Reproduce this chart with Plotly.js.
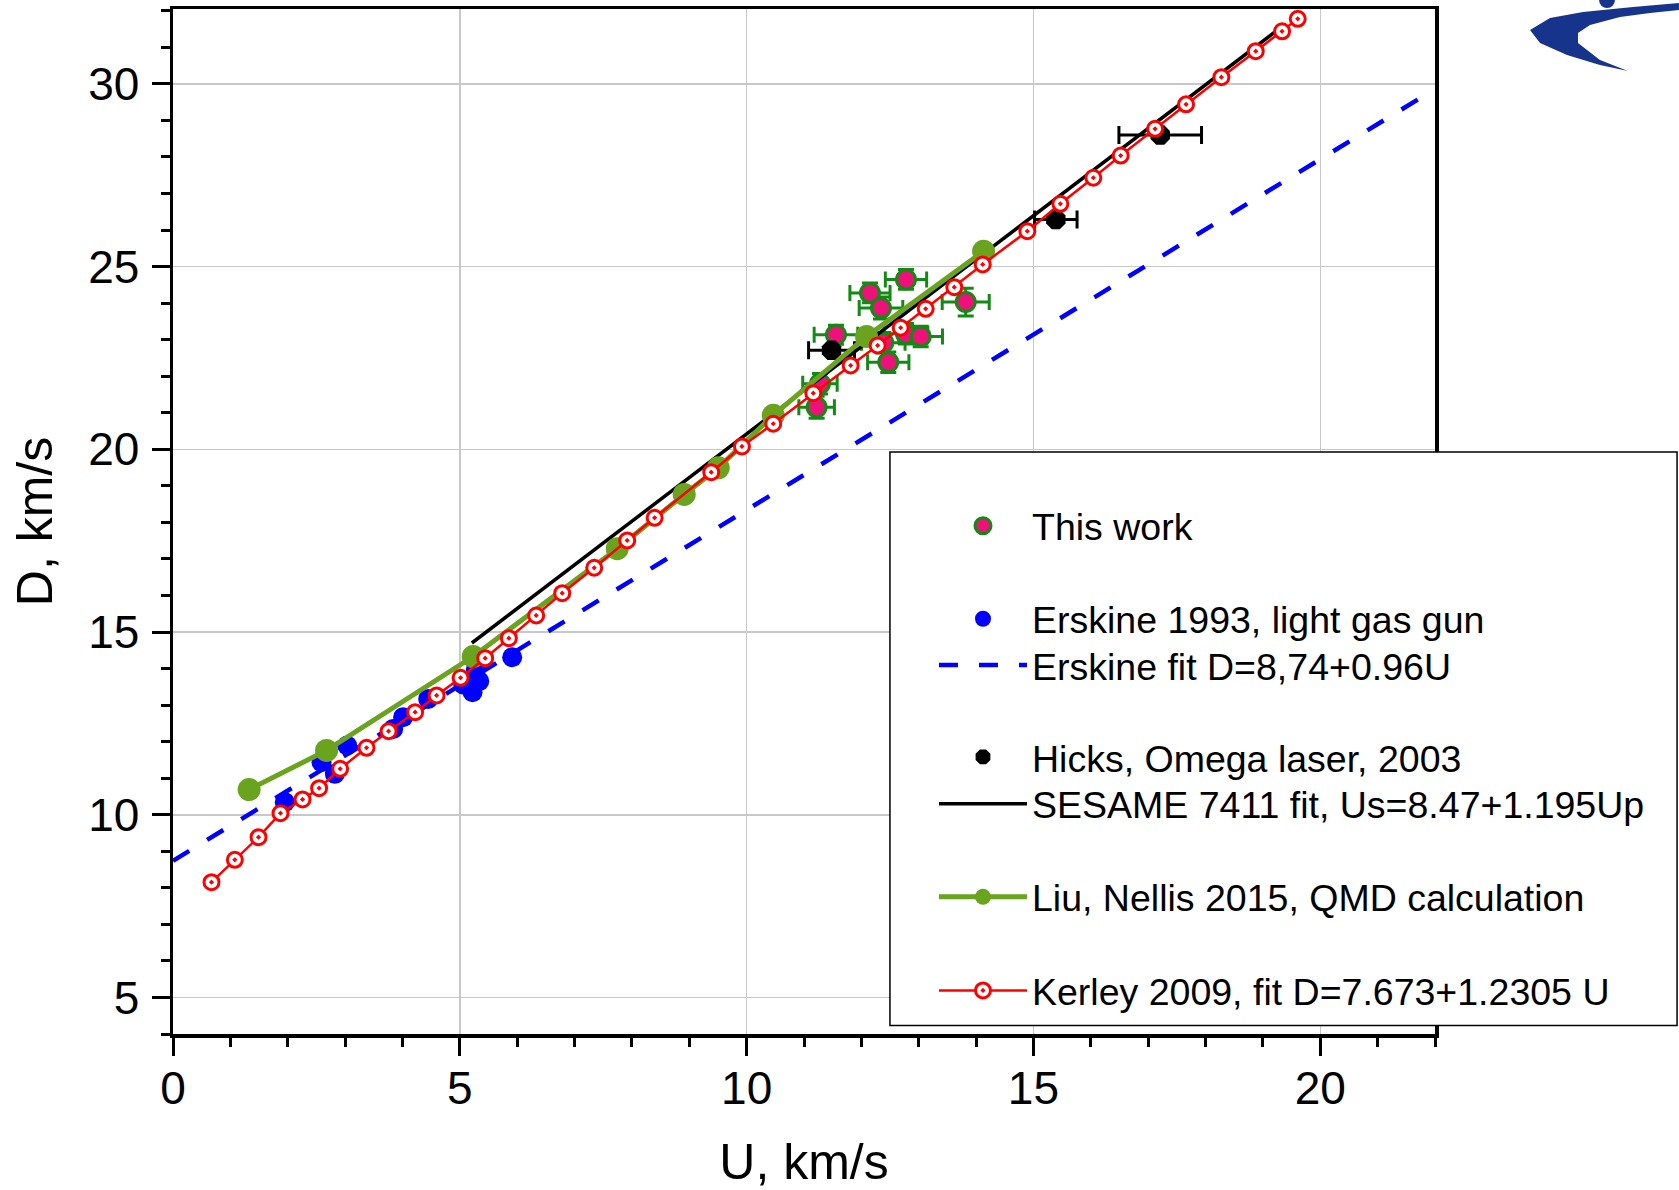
<!DOCTYPE html>
<html>
<head>
<meta charset="utf-8">
<script src="https://cdn.plot.ly/plotly-3.0.1.min.js"></script>
<style>html,body{margin:0;padding:0;background:#fff;}#chart{width:1679px;height:1190px;}</style>
</head>
<body>
<div id="chart"></div>
<script>
// ---- This work ----
const workU  = [12.778, 12.15, 12.342, 13.819, 11.557, 12.778, 13.034, 12.382, 12.469, 11.278, 11.22];
const workD  = [24.648, 24.28, 23.87, 24.03, 23.135, 23.163, 23.09, 22.915, 22.385, 21.795, 21.15];
const workEU = [0.36, 0.35, 0.38, 0.41, 0.38, 0.38, 0.38, 0.38, 0.36, 0.30, 0.31];
const workED = [0.27, 0.27, 0.30, 0.38, 0.26, 0.28, 0.28, 0.28, 0.28, 0.28, 0.30];

// ---- Erskine 1993 ----
const erskU = [1.949, 2.589, 2.821, 3.036, 3.838, 4.012, 4.449, 5.059, 5.222, 5.338, 5.28, 5.913];
const erskD = [10.344, 11.438, 11.12, 11.895, 12.35, 12.67, 13.17, 13.565, 13.355, 13.655, 13.967, 14.31];
const erskFitU = [0, 22];
const erskFitD = [8.74, 29.86];

// ---- Hicks 2003 ----
const hicksU  = [11.48, 15.39, 17.21];
const hicksD  = [22.71, 26.29, 28.6];
const hicksEU = [0.40, 0.37, 0.72];

// ---- SESAME 7411 fit ----
const sesameU = [5.21, 19.3];
const sesameD = [14.70, 31.53];

// ---- Liu, Nellis 2015 QMD ----
const liuU = [1.327, 2.677, 5.233, 7.744, 8.912, 9.505, 10.464, 12.09, 14.13];
const liuD = [10.69, 11.76, 14.33, 17.28, 18.765, 19.495, 20.93, 23.09, 25.42];

// ---- Kerley 2009 ----
const kerU = [0.671, 1.078, 1.491, 1.874, 2.258, 2.547, 2.914, 3.374, 3.758, 4.221, 4.595, 5.013, 5.442, 5.855,
  6.331, 6.785, 7.343, 7.918, 8.396, 9.383, 9.918, 10.464, 11.162, 11.813, 12.284, 12.685, 13.121, 13.62,
  14.115, 14.893, 15.469, 16.044, 16.521, 17.12, 17.66, 18.276, 18.875, 19.334, 19.607];
const kerD = [8.154, 8.767, 9.386, 10.043, 10.418, 10.727, 11.258, 11.832, 12.287, 12.807, 13.264, 13.748, 14.285, 14.832,
  15.453, 16.064, 16.759, 17.506, 18.127, 19.375, 20.078, 20.70, 21.537, 22.295, 22.842, 23.327, 23.846, 24.438,
  25.059, 25.97, 26.72, 27.432, 28.04, 28.77, 29.44, 30.185, 30.896, 31.44, 31.78];

const xTickVals = [0, 5, 10, 15, 20];
const yTickVals = [5, 10, 15, 20, 25, 30];

const FONT = 'Liberation Sans, Arial, Helvetica, sans-serif';

const traces = [
  {
    x: workU, y: workD, mode: 'markers', type: 'scatter', name: 'This work', legend: 'legend',
    marker: {size: 19, color: '#EC1279', line: {color: '#138A13', width: 3}},
    error_x: {type: 'data', array: workEU, visible: true, color: '#138A13', thickness: 3, width: 8},
    error_y: {type: 'data', array: workED, visible: true, color: '#138A13', thickness: 3, width: 8}
  },
  {
    x: erskU, y: erskD, mode: 'markers', type: 'scatter', name: 'Erskine 1993, light gas gun', legend: 'legend2',
    marker: {size: 20, color: '#0000FF'}
  },
  {
    x: erskFitU, y: erskFitD, mode: 'lines', type: 'scatter', name: 'Erskine fit D=8,74+0.96U', legend: 'legend3',
    line: {color: '#0000FF', width: 4.5, dash: '19px,21px'}
  },
  {
    x: hicksU, y: hicksD, mode: 'markers', type: 'scatter', name: 'Hicks, Omega laser, 2003', legend: 'legend4',
    marker: {size: 21, color: '#000000', symbol: 'octagon'},
    error_x: {type: 'data', array: hicksEU, visible: true, color: '#000000', thickness: 3, width: 9}
  },
  {
    x: sesameU, y: sesameD, mode: 'lines', type: 'scatter', name: 'SESAME 7411 fit, Us=8.47+1.195Up', legend: 'legend5',
    line: {color: '#000000', width: 3.5}
  },
  {
    x: liuU, y: liuD, mode: 'lines+markers', type: 'scatter', name: 'Liu, Nellis 2015, QMD calculation', legend: 'legend6',
    line: {color: '#6AA31E', width: 5},
    marker: {size: 23, color: '#6AA31E'}
  },
  {
    x: kerU, y: kerD, mode: 'lines+markers', type: 'scatter', name: 'Kerley 2009, fit D=7.673+1.2305 U', legend: 'legend7',
    line: {color: '#FF0000', width: 2.5},
    marker: {size: 15, color: '#FFFFFF', symbol: 'circle-dot', line: {color: '#FF0000', width: 3}}
  }
];

const axisCommon = {
  showline: true, linecolor: '#000', linewidth: 3.5, mirror: true,
  ticks: 'outside', ticklen: 18, tickwidth: 3, tickcolor: '#000',
  showgrid: true, gridcolor: '#C8C8C8', gridwidth: 1.5, zeroline: false,
  tickfont: {family: FONT, size: 46, color: '#000'},
  minor: {ticks: 'outside', ticklen: 9, tickwidth: 3, tickcolor: '#000', dtick: 1, showgrid: false},
  automargin: false
};

// legend rows: vertical centres of the legend entries in paper units
const legendRowsY = [0.4958, 0.4050, 0.3600, 0.2702, 0.2244, 0.1337, 0.0424];
function legendAt(yc) {
  return {
    x: 0.603, y: yc, xanchor: 'left', yanchor: 'middle',
    bgcolor: 'rgba(0,0,0,0)', borderwidth: 0,
    font: {family: FONT, size: 37.5, color: '#000'},
    itemwidth: 88
  };
}

const layout = {
  width: 1679, height: 1190,
  margin: {l: 173, r: 244, t: 9, b: 156},
  paper_bgcolor: '#fff', plot_bgcolor: '#fff',
  font: {family: FONT, color: '#000'},
  showlegend: true,
  xaxis: Object.assign({}, axisCommon, {
    range: [0, 22], tickmode: 'array', tickvals: xTickVals,
    ticklabelstandoff: -7,
    title: {text: 'U, km/s', font: {family: FONT, size: 50}, standoff: 57}
  }),
  yaxis: Object.assign({}, axisCommon, {
    range: [4, 32.05], tickmode: 'array', tickvals: yTickVals,
    ticklabelstandoff: 3,
    title: {text: 'D, km/s', font: {family: FONT, size: 50}, standoff: 20}
  }),
  legend: legendAt(legendRowsY[0]),
  legend2: legendAt(legendRowsY[1]),
  legend3: legendAt(legendRowsY[2]),
  legend4: legendAt(legendRowsY[3]),
  legend5: legendAt(legendRowsY[4]),
  legend6: legendAt(legendRowsY[5]),
  legend7: legendAt(legendRowsY[6]),
  shapes: [
    {type: 'rect', xref: 'paper', yref: 'paper', x0: 0.5681, x1: 1.1918, y0: 0.0083, y1: 0.5678,
     fillcolor: '#fff', line: {color: '#000', width: 1.5}, layer: 'above'},
    {type: 'path', xref: 'paper', yref: 'paper', layer: 'above', fillcolor: '#17348C', line: {width: 0},
     path: 'M1.1933,1.0059 L1.1569,1.0020 L1.1173,0.9971 L1.0911,0.9912 L1.0753,0.9795 L1.0832,0.9668 L1.1046,0.9551 L1.1307,0.9454 L1.1529,0.9395 L1.1307,0.9502 L1.1133,0.9668 L1.1133,0.9766 L1.1228,0.9844 L1.1466,0.9922 L1.1704,0.9961 L1.1933,0.9990 Z'},
    {type: 'circle', xref: 'paper', yref: 'paper', layer: 'above', fillcolor: '#17348C', line: {width: 0},
     x0: 1.130, x1: 1.1426, y0: 1.001, y1: 1.0166}
  ]
};

Plotly.newPlot('chart', traces, layout, {displayModeBar: false, staticPlot: true});
</script>
</body>
</html>
